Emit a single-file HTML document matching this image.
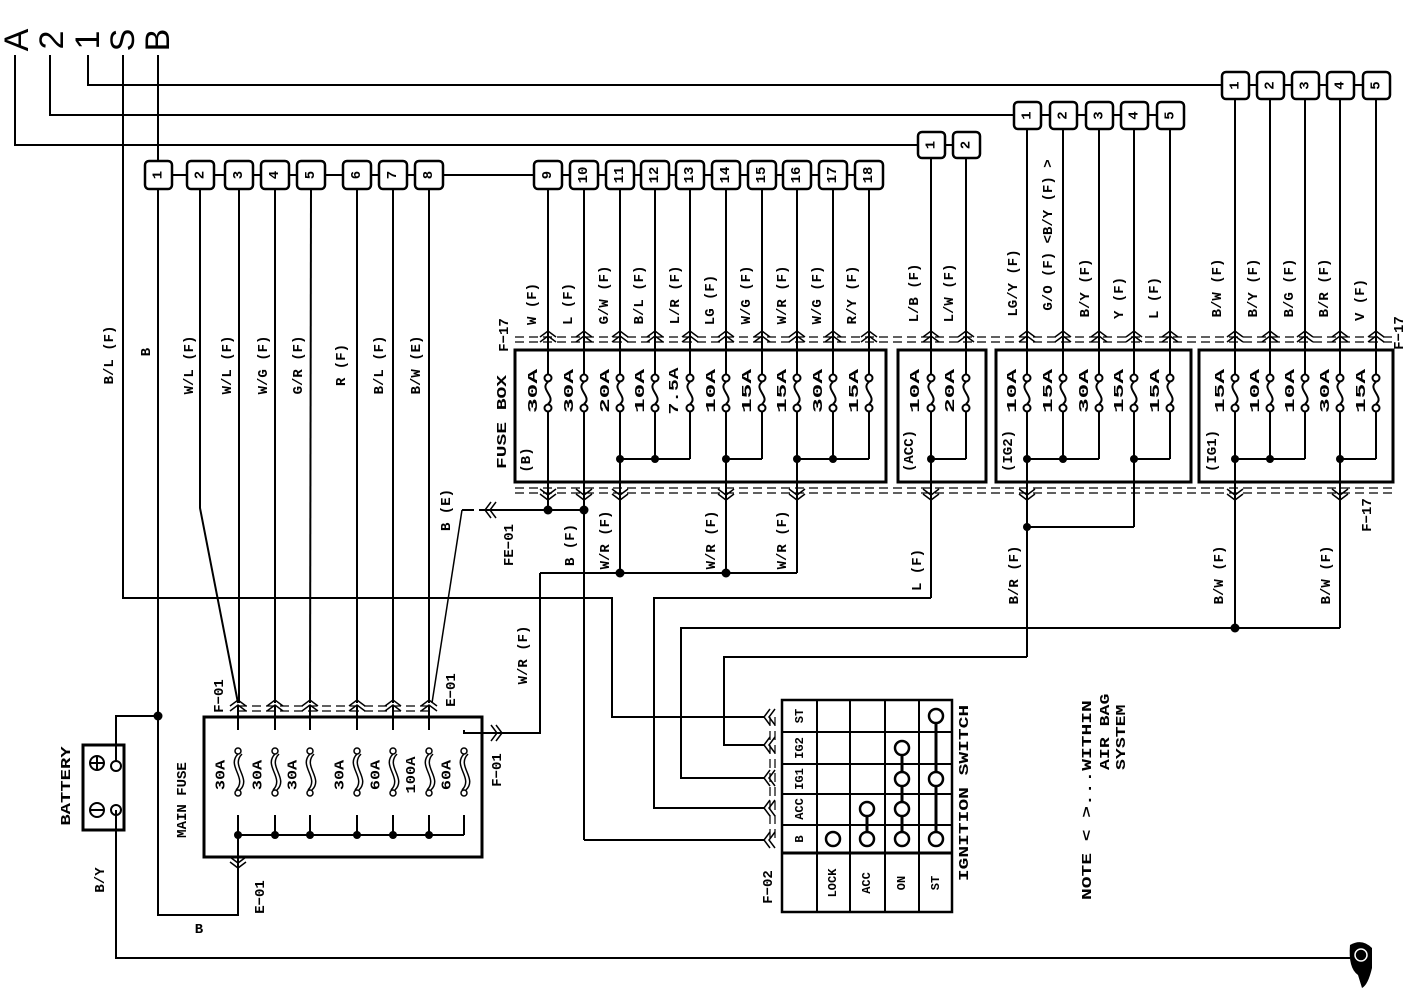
<!DOCTYPE html>
<html><head><meta charset="utf-8"><style>
html,body{margin:0;padding:0;background:#fff;}
svg{display:block;}
text{font-family:"Liberation Mono",monospace;font-weight:bold;font-size:14px;fill:#000;text-anchor:middle;dominant-baseline:central;}
.big{font-family:"Liberation Sans",sans-serif;font-size:34px;font-weight:normal;}
.s{font-size:12px;}
</style></head><body>
<svg width="1408" height="992" viewBox="0 0 1408 992" xmlns="http://www.w3.org/2000/svg">
<defs>
<g id="fz" fill="none" stroke="#000" stroke-width="2"><circle cx="0" cy="-15" r="3.5" fill="#fff"/><circle cx="0" cy="15" r="3.5" fill="#fff"/><path d="M0,-11 C-9,-4 9,4 0,11"/></g>
<g id="mf" fill="none" stroke="#000" stroke-width="1.5"><circle cx="0" cy="-21" r="3" fill="#fff"/><circle cx="0" cy="21" r="3" fill="#fff"/><path d="M0,-18 C-12,-6 10,6 -2,18 M4,-18 C-8,-6 14,6 2,18"/></g>
<g id="up" fill="none" stroke="#000" stroke-width="1.5"><path d="M-8,6 L0,0 L8,6 M-8,11 L0,5 L8,11"/></g>
<g id="dn" fill="none" stroke="#000" stroke-width="1.5"><path d="M-8,-6 L0,0 L8,-6 M-8,-11 L0,-5 L8,-11"/></g>
<g id="lf" fill="none" stroke="#000" stroke-width="1.5"><path d="M6,-8 L0,0 L6,8 M11,-8 L5,0 L11,8"/></g>
<g id="rt" fill="none" stroke="#000" stroke-width="1.5"><path d="M-6,-8 L0,0 L-6,8 M-11,-8 L-5,0 L-11,8"/></g>
</defs>

<g>
<text class="big" transform="translate(17 40) rotate(-90)">A</text>
<text class="big" transform="translate(52 40) rotate(-90)">2</text>
<text class="big" transform="translate(88 40) rotate(-90)">1</text>
<text class="big" transform="translate(123 40) rotate(-90)">S</text>
<text class="big" transform="translate(158 40) rotate(-90)">B</text>
</g>

<g fill="none" stroke="#000" stroke-width="2">
<polyline points="15,55 15,145 918,145"/>
<polyline points="50,55 50,115 1015,115"/>
<polyline points="88,55 88,85 1222,85"/>
<polyline points="123,55 123,598 612,598 612,717 765,717"/>
<line x1="158" y1="55" x2="158" y2="165"/>
<polyline points="158,190 158,915 238,915 238,862"/>
<polyline points="158,716 116,716 116,762"/>
<polyline points="116,810 116,958 1350,958"/>
<line x1="158" y1="175" x2="869" y2="175"/>
<line x1="931" y1="145" x2="966" y2="145"/>
<line x1="1027" y1="115" x2="1170" y2="115"/>
<line x1="1235" y1="85" x2="1376" y2="85"/>
<polyline points="200,190 200,508 238,703"/>
<line x1="239" y1="190" x2="239" y2="703"/>
<line x1="275" y1="190" x2="275" y2="703"/>
<line x1="311" y1="190" x2="310" y2="703"/>
<line x1="357" y1="190" x2="357" y2="703"/>
<line x1="393" y1="190" x2="393" y2="703"/>
<line x1="429" y1="190" x2="429" y2="703"/>
<polyline points="462,510 432,703" stroke-width="1.5"/>
<line x1="462" y1="510" x2="480" y2="510" stroke-dasharray="12,5"/>
<line x1="480" y1="510" x2="584" y2="510"/>
<line x1="548" y1="190" x2="548" y2="375"/><line x1="548" y1="411" x2="548" y2="510"/>
<line x1="584" y1="190" x2="584" y2="375"/><line x1="584" y1="411" x2="584" y2="840"/>
<line x1="620" y1="190" x2="620" y2="375"/><line x1="620" y1="411" x2="620" y2="573"/>
<line x1="655" y1="190" x2="655" y2="375"/><line x1="655" y1="411" x2="655" y2="459"/>
<line x1="690" y1="190" x2="690" y2="375"/><line x1="690" y1="411" x2="690" y2="459"/>
<line x1="726" y1="190" x2="726" y2="375"/><line x1="726" y1="411" x2="726" y2="573"/>
<line x1="762" y1="190" x2="762" y2="375"/><line x1="762" y1="411" x2="762" y2="459"/>
<line x1="797" y1="190" x2="797" y2="375"/><line x1="797" y1="411" x2="797" y2="573"/>
<line x1="833" y1="190" x2="833" y2="375"/><line x1="833" y1="411" x2="833" y2="459"/>
<line x1="869" y1="190" x2="869" y2="375"/><line x1="869" y1="411" x2="869" y2="459"/>
<line x1="620" y1="459" x2="690" y2="459"/>
<line x1="726" y1="459" x2="762" y2="459"/>
<line x1="797" y1="459" x2="869" y2="459"/>
<polyline points="540,573 797,573"/>
<polyline points="540,573 540,733 496,733"/>
<line x1="584" y1="840" x2="765" y2="840"/>
<line x1="931" y1="158" x2="931" y2="375"/><line x1="931" y1="411" x2="931" y2="598"/>
<line x1="966" y1="158" x2="966" y2="375"/><line x1="966" y1="411" x2="966" y2="459"/>
<line x1="931" y1="459" x2="966" y2="459"/>
<polyline points="931,598 654,598 654,808 765,808"/>
<line x1="1027" y1="130" x2="1027" y2="375"/><line x1="1027" y1="411" x2="1027" y2="657"/>
<line x1="1063" y1="130" x2="1063" y2="375"/><line x1="1063" y1="411" x2="1063" y2="459"/>
<line x1="1099" y1="130" x2="1099" y2="375"/><line x1="1099" y1="411" x2="1099" y2="459"/>
<line x1="1134" y1="130" x2="1134" y2="375"/><line x1="1134" y1="411" x2="1134" y2="527"/>
<line x1="1170" y1="130" x2="1170" y2="375"/><line x1="1170" y1="411" x2="1170" y2="459"/>
<line x1="1027" y1="459" x2="1099" y2="459"/>
<line x1="1134" y1="459" x2="1170" y2="459"/>
<polyline points="1134,527 1027,527"/>
<polyline points="1027,657 724,657 724,745 765,745"/>
<line x1="1235" y1="100" x2="1235" y2="375"/><line x1="1235" y1="411" x2="1235" y2="628"/>
<line x1="1270" y1="100" x2="1270" y2="375"/><line x1="1270" y1="411" x2="1270" y2="459"/>
<line x1="1305" y1="100" x2="1305" y2="375"/><line x1="1305" y1="411" x2="1305" y2="459"/>
<line x1="1340" y1="100" x2="1340" y2="375"/><line x1="1340" y1="411" x2="1340" y2="628"/>
<line x1="1376" y1="100" x2="1376" y2="375"/><line x1="1376" y1="411" x2="1376" y2="459"/>
<line x1="1235" y1="459" x2="1305" y2="459"/>
<line x1="1340" y1="459" x2="1376" y2="459"/>
<polyline points="1340,628 681,628 681,778 765,778"/>
<line x1="238" y1="706" x2="238" y2="730"/><line x1="238" y1="815" x2="238" y2="862"/>
<line x1="275" y1="706" x2="275" y2="730"/><line x1="275" y1="815" x2="275" y2="835"/>
<line x1="310" y1="706" x2="310" y2="730"/><line x1="310" y1="815" x2="310" y2="835"/>
<line x1="357" y1="706" x2="357" y2="730"/><line x1="357" y1="815" x2="357" y2="835"/>
<line x1="393" y1="706" x2="393" y2="730"/><line x1="393" y1="815" x2="393" y2="835"/>
<line x1="429" y1="706" x2="429" y2="730"/><line x1="429" y1="815" x2="429" y2="835"/>
<polyline points="464,730 464,733 500,733"/><line x1="464" y1="815" x2="464" y2="835"/>
<line x1="238" y1="835" x2="464" y2="835"/>
<g stroke-width="1.2" stroke-dasharray="9,5">
<line x1="515" y1="337" x2="1393" y2="337"/><line x1="515" y1="342" x2="1393" y2="342"/>
<line x1="515" y1="488" x2="1393" y2="488"/><line x1="515" y1="493" x2="1393" y2="493"/>
<line x1="238" y1="706" x2="429" y2="706"/><line x1="238" y1="711" x2="429" y2="711"/>
<line x1="775" y1="717" x2="775" y2="840"/><line x1="770" y1="717" x2="770" y2="840"/>
</g>
<g stroke-width="3">
<rect x="515" y="350" width="371" height="132"/>
<rect x="898" y="350" width="88" height="132"/>
<rect x="996" y="350" width="195" height="132"/>
<rect x="1199" y="350" width="194" height="132"/>
<rect x="204" y="717" width="278" height="140"/>
<rect x="83" y="745" width="41" height="85"/>
</g>
<circle cx="116" cy="766" r="5"/><circle cx="116" cy="810" r="5"/>
<circle cx="97" cy="763" r="7"/><path d="M90,763 H104 M97,756 V770"/>
<circle cx="97" cy="810" r="7"/><path d="M90,810 H104"/>
<rect x="782" y="700" width="170" height="212" stroke-width="2.5"/>
<line x1="817" y1="700" x2="817" y2="912"/><line x1="850" y1="700" x2="850" y2="912"/>
<line x1="885" y1="700" x2="885" y2="912"/><line x1="919" y1="700" x2="919" y2="912"/>
<line x1="782" y1="732" x2="952" y2="732"/><line x1="782" y1="764" x2="952" y2="764"/>
<line x1="782" y1="794" x2="952" y2="794"/><line x1="782" y1="825" x2="952" y2="825"/>
<line x1="782" y1="853" x2="952" y2="853" stroke-width="3"/>
<line x1="867" y1="809" x2="867" y2="839" stroke-width="3"/>
<line x1="902" y1="748" x2="902" y2="839" stroke-width="3"/>
<line x1="936" y1="716" x2="936" y2="839" stroke-width="3"/>
<g fill="#fff" stroke-width="2.5">
<circle cx="833" cy="839" r="7"/>
<circle cx="867" cy="839" r="7"/><circle cx="867" cy="809" r="7"/>
<circle cx="902" cy="839" r="7"/><circle cx="902" cy="809" r="7"/><circle cx="902" cy="779" r="7"/><circle cx="902" cy="748" r="7"/>
<circle cx="936" cy="839" r="7"/><circle cx="936" cy="779" r="7"/><circle cx="936" cy="716" r="7"/>
</g>
</g>

<g>
<use href="#fz" x="548" y="393"/><use href="#fz" x="584" y="393"/><use href="#fz" x="620" y="393"/><use href="#fz" x="655" y="393"/><use href="#fz" x="690" y="393"/><use href="#fz" x="726" y="393"/><use href="#fz" x="762" y="393"/><use href="#fz" x="797" y="393"/><use href="#fz" x="833" y="393"/><use href="#fz" x="869" y="393"/>
<use href="#fz" x="931" y="393"/><use href="#fz" x="966" y="393"/>
<use href="#fz" x="1027" y="393"/><use href="#fz" x="1063" y="393"/><use href="#fz" x="1099" y="393"/><use href="#fz" x="1134" y="393"/><use href="#fz" x="1170" y="393"/>
<use href="#fz" x="1235" y="393"/><use href="#fz" x="1270" y="393"/><use href="#fz" x="1305" y="393"/><use href="#fz" x="1340" y="393"/><use href="#fz" x="1376" y="393"/>
<use href="#mf" x="238" y="772"/><use href="#mf" x="275" y="772"/><use href="#mf" x="310" y="772"/><use href="#mf" x="357" y="772"/><use href="#mf" x="393" y="772"/><use href="#mf" x="429" y="772"/><use href="#mf" x="464" y="772"/>
</g>

<g>
<use href="#up" x="548" y="331"/><use href="#up" x="584" y="331"/><use href="#up" x="620" y="331"/><use href="#up" x="655" y="331"/><use href="#up" x="690" y="331"/><use href="#up" x="726" y="331"/><use href="#up" x="762" y="331"/><use href="#up" x="797" y="331"/><use href="#up" x="833" y="331"/><use href="#up" x="869" y="331"/>
<use href="#up" x="931" y="331"/><use href="#up" x="966" y="331"/>
<use href="#up" x="1027" y="331"/><use href="#up" x="1063" y="331"/><use href="#up" x="1099" y="331"/><use href="#up" x="1134" y="331"/><use href="#up" x="1170" y="331"/>
<use href="#up" x="1235" y="331"/><use href="#up" x="1270" y="331"/><use href="#up" x="1305" y="331"/><use href="#up" x="1340" y="331"/><use href="#up" x="1376" y="331"/>
<use href="#dn" x="548" y="500"/><use href="#dn" x="584" y="500"/><use href="#dn" x="620" y="500"/><use href="#dn" x="726" y="500"/><use href="#dn" x="797" y="500"/><use href="#dn" x="931" y="500"/><use href="#dn" x="1027" y="500"/><use href="#dn" x="1235" y="500"/><use href="#dn" x="1340" y="500"/>
<use href="#up" x="238" y="700"/><use href="#up" x="275" y="700"/><use href="#up" x="310" y="700"/><use href="#up" x="357" y="700"/><use href="#up" x="393" y="700"/><use href="#up" x="429" y="700"/>
<use href="#dn" x="238" y="868"/>
<use href="#lf" x="485" y="510"/>
<use href="#rt" x="502" y="733"/>
<use href="#lf" x="764" y="717"/><use href="#lf" x="764" y="745"/><use href="#lf" x="764" y="778"/><use href="#lf" x="764" y="808"/><use href="#lf" x="764" y="840"/>
</g>

<g fill="#000">
<circle cx="158" cy="716" r="4.5"/>
<circle cx="548" cy="510" r="4.5"/><circle cx="584" cy="510" r="4.5"/>
<circle cx="620" cy="459" r="4"/><circle cx="655" cy="459" r="4"/><circle cx="726" cy="459" r="4"/><circle cx="797" cy="459" r="4"/><circle cx="833" cy="459" r="4"/>
<circle cx="931" cy="459" r="4"/>
<circle cx="1027" cy="459" r="4"/><circle cx="1063" cy="459" r="4"/><circle cx="1134" cy="459" r="4"/>
<circle cx="1235" cy="459" r="4"/><circle cx="1270" cy="459" r="4"/><circle cx="1340" cy="459" r="4"/>
<circle cx="620" cy="573" r="4.5"/><circle cx="726" cy="573" r="4.5"/>
<circle cx="1027" cy="527" r="4"/><circle cx="1235" cy="628" r="4.5"/>
<circle cx="238" cy="835" r="4"/><circle cx="275" cy="835" r="4"/><circle cx="310" cy="835" r="4"/><circle cx="357" cy="835" r="4"/><circle cx="393" cy="835" r="4"/><circle cx="429" cy="835" r="4"/>
<path d="M1350,945 Q1362,938 1372,948 L1372,968 Q1368,985 1362,988 L1358,975 Q1348,968 1350,945Z"/>
</g>
<circle cx="1361" cy="955" r="6" fill="none" stroke="#fff" stroke-width="1.5"/>

<g fill="#fff" stroke="#000" stroke-width="2.5">
<rect x="145" y="161" width="27" height="28" rx="4"/><rect x="187" y="161" width="27" height="28" rx="4"/><rect x="225" y="161" width="28" height="28" rx="4"/><rect x="261" y="161" width="28" height="28" rx="4"/><rect x="297" y="161" width="28" height="28" rx="4"/><rect x="343" y="161" width="28" height="28" rx="4"/><rect x="379" y="161" width="28" height="28" rx="4"/><rect x="415" y="161" width="28" height="28" rx="4"/>
<rect x="534" y="161" width="28" height="28" rx="4"/><rect x="570" y="161" width="28" height="28" rx="4"/><rect x="606" y="161" width="28" height="28" rx="4"/><rect x="641" y="161" width="28" height="28" rx="4"/><rect x="676" y="161" width="28" height="28" rx="4"/><rect x="712" y="161" width="28" height="28" rx="4"/><rect x="748" y="161" width="28" height="28" rx="4"/><rect x="783" y="161" width="28" height="28" rx="4"/><rect x="819" y="161" width="28" height="28" rx="4"/><rect x="855" y="161" width="28" height="28" rx="4"/>
<rect x="918" y="132" width="27" height="26" rx="4"/><rect x="953" y="132" width="27" height="26" rx="4"/>
<rect x="1014" y="102" width="27" height="27" rx="4"/><rect x="1050" y="102" width="27" height="27" rx="4"/><rect x="1086" y="102" width="27" height="27" rx="4"/><rect x="1121" y="102" width="27" height="27" rx="4"/><rect x="1157" y="102" width="27" height="27" rx="4"/>
<rect x="1222" y="72" width="27" height="27" rx="4"/><rect x="1257" y="72" width="27" height="27" rx="4"/><rect x="1292" y="72" width="27" height="27" rx="4"/><rect x="1327" y="72" width="27" height="27" rx="4"/><rect x="1363" y="72" width="27" height="27" rx="4"/>
</g>
<g>
<text transform="translate(158.5 175) rotate(-90)">1</text><text transform="translate(200.5 175) rotate(-90)">2</text><text transform="translate(239 175) rotate(-90)">3</text><text transform="translate(275 175) rotate(-90)">4</text><text transform="translate(311 175) rotate(-90)">5</text><text transform="translate(357 175) rotate(-90)">6</text><text transform="translate(393 175) rotate(-90)">7</text><text transform="translate(429 175) rotate(-90)">8</text>
<text transform="translate(548 175) rotate(-90)">9</text><text transform="translate(584 175) rotate(-90)">10</text><text transform="translate(620 175) rotate(-90)">11</text><text transform="translate(655 175) rotate(-90)">12</text><text transform="translate(690 175) rotate(-90)">13</text><text transform="translate(726 175) rotate(-90)">14</text><text transform="translate(762 175) rotate(-90)">15</text><text transform="translate(797 175) rotate(-90)">16</text><text transform="translate(833 175) rotate(-90)">17</text><text transform="translate(869 175) rotate(-90)">18</text>
<text transform="translate(931.5 145) rotate(-90)">1</text><text transform="translate(966.5 145) rotate(-90)">2</text>
<text transform="translate(1027.5 115.5) rotate(-90)">1</text><text transform="translate(1063.5 115.5) rotate(-90)">2</text><text transform="translate(1099.5 115.5) rotate(-90)">3</text><text transform="translate(1134.5 115.5) rotate(-90)">4</text><text transform="translate(1170.5 115.5) rotate(-90)">5</text>
<text transform="translate(1235.5 85.5) rotate(-90)">1</text><text transform="translate(1270.5 85.5) rotate(-90)">2</text><text transform="translate(1305.5 85.5) rotate(-90)">3</text><text transform="translate(1340.5 85.5) rotate(-90)">4</text><text transform="translate(1376.5 85.5) rotate(-90)">5</text>
</g>

<g>
<text transform="translate(110 355) rotate(-90)">B/L (F)</text>
<text transform="translate(147 352) rotate(-90)">B</text>
<text transform="translate(190 365) rotate(-90)">W/L (F)</text>
<text transform="translate(228 365) rotate(-90)">W/L (F)</text>
<text transform="translate(264 365) rotate(-90)">W/G (F)</text>
<text transform="translate(299 365) rotate(-90)">G/R (F)</text>
<text transform="translate(342 365) rotate(-90)">R (F)</text>
<text transform="translate(380 365) rotate(-90)">B/L (F)</text>
<text transform="translate(417 365) rotate(-90)">B/W (E)</text>
<text transform="translate(447 510) rotate(-90)">B (E)</text>
<text transform="translate(510 545) rotate(-90)">FE−01</text>
<text transform="translate(524 655) rotate(-90)">W/R (F)</text>
<text transform="translate(571 545) rotate(-90)">B (F)</text>
<text transform="translate(606 540) rotate(-90)">W/R (F)</text>
<text transform="translate(712 540) rotate(-90)">W/R (F)</text>
<text transform="translate(783 540) rotate(-90)">W/R (F)</text>
<text transform="translate(918 570) rotate(-90)">L (F)</text>
<text transform="translate(1015 575) rotate(-90)">B/R (F)</text>
<text transform="translate(1220 575) rotate(-90)">B/W (F)</text>
<text transform="translate(1327 575) rotate(-90)">B/W (F)</text>
<text transform="translate(1368 515) rotate(-90)">F−17</text>
<text transform="translate(199 930)">B</text>
<text transform="translate(101 880) rotate(-90)">B/Y</text>
<text transform="translate(533 304) rotate(-90)">W (F)</text>
<text transform="translate(569 304) rotate(-90)">L (F)</text>
<text transform="translate(605 295) rotate(-90)">G/W (F)</text>
<text transform="translate(640 295) rotate(-90)">B/L (F)</text>
<text transform="translate(676 295) rotate(-90)">L/R (F)</text>
<text transform="translate(711 300) rotate(-90)">LG (F)</text>
<text transform="translate(747 295) rotate(-90)">W/G (F)</text>
<text transform="translate(783 295) rotate(-90)">W/R (F)</text>
<text transform="translate(818 295) rotate(-90)">W/G (F)</text>
<text transform="translate(853 295) rotate(-90)">R/Y (F)</text>
<text transform="translate(915 293) rotate(-90)">L/B (F)</text>
<text transform="translate(950 293) rotate(-90)">L/W (F)</text>
<text transform="translate(1014 283) rotate(-90)">LG/Y (F)</text>
<text transform="translate(1049 235) rotate(-90)">G/O (F) &lt;B/Y (F) &gt;</text>
<text transform="translate(1086 288) rotate(-90)">B/Y (F)</text>
<text transform="translate(1120 298) rotate(-90)">Y (F)</text>
<text transform="translate(1155 298) rotate(-90)">L (F)</text>
<text transform="translate(1218 288) rotate(-90)">B/W (F)</text>
<text transform="translate(1254 288) rotate(-90)">B/Y (F)</text>
<text transform="translate(1290 288) rotate(-90)">B/G (F)</text>
<text transform="translate(1325 288) rotate(-90)">B/R (F)</text>
<text transform="translate(1361 300) rotate(-90)">V (F)</text>
<text transform="translate(1400 333) rotate(-90)">F−17</text>
<text transform="translate(505 335) rotate(-90)">F−17</text>
<text transform="translate(503 422) rotate(-90) scale(1.4,1)">FUSE  BOX</text>
<text transform="translate(527 460) rotate(-90)">(B)</text>
<text transform="translate(910 451) rotate(-90)">(ACC)</text>
<text transform="translate(1009 451) rotate(-90)">(IG2)</text>
<text transform="translate(1213 451) rotate(-90)">(IG1)</text>
<g>
<text transform="translate(533 391) rotate(-90) scale(1.75,1)">30A</text><text transform="translate(569 391) rotate(-90) scale(1.75,1)">30A</text><text transform="translate(605 391) rotate(-90) scale(1.75,1)">20A</text><text transform="translate(640 391) rotate(-90) scale(1.75,1)">10A</text><text transform="translate(675 391) rotate(-90) scale(1.4,1)">7.5A</text><text transform="translate(711 391) rotate(-90) scale(1.75,1)">10A</text><text transform="translate(747 391) rotate(-90) scale(1.75,1)">15A</text><text transform="translate(782 391) rotate(-90) scale(1.75,1)">15A</text><text transform="translate(818 391) rotate(-90) scale(1.75,1)">30A</text><text transform="translate(854 391) rotate(-90) scale(1.75,1)">15A</text>
<text transform="translate(915 391) rotate(-90) scale(1.75,1)">10A</text><text transform="translate(950 391) rotate(-90) scale(1.75,1)">20A</text>
<text transform="translate(1012 391) rotate(-90) scale(1.75,1)">10A</text><text transform="translate(1048 391) rotate(-90) scale(1.75,1)">15A</text><text transform="translate(1084 391) rotate(-90) scale(1.75,1)">30A</text><text transform="translate(1119 391) rotate(-90) scale(1.75,1)">15A</text><text transform="translate(1155 391) rotate(-90) scale(1.75,1)">15A</text>
<text transform="translate(1220 391) rotate(-90) scale(1.75,1)">15A</text><text transform="translate(1255 391) rotate(-90) scale(1.75,1)">10A</text><text transform="translate(1290 391) rotate(-90) scale(1.75,1)">10A</text><text transform="translate(1325 391) rotate(-90) scale(1.75,1)">30A</text><text transform="translate(1361 391) rotate(-90) scale(1.75,1)">15A</text>
</g>
<text transform="translate(221 775) rotate(-90) scale(1.2,1)">30A</text><text transform="translate(258 775) rotate(-90) scale(1.2,1)">30A</text><text transform="translate(293 775) rotate(-90) scale(1.2,1)">30A</text><text transform="translate(340 775) rotate(-90) scale(1.2,1)">30A</text><text transform="translate(376 775) rotate(-90) scale(1.2,1)">60A</text><text transform="translate(412 775) rotate(-90) scale(1.1,1)">100A</text><text transform="translate(447 775) rotate(-90) scale(1.2,1)">60A</text>
<text transform="translate(183 800) rotate(-90)">MAIN FUSE</text>
<text transform="translate(66 786) rotate(-90) scale(1.35,1)">BATTERY</text>
<text transform="translate(220 696) rotate(-90)">F−01</text>
<text transform="translate(452 690) rotate(-90)">E−01</text>
<text transform="translate(261 897) rotate(-90)">E−01</text>
<text transform="translate(498 770) rotate(-90)">F−01</text>
<text class="s" transform="translate(800 716) rotate(-90)">ST</text>
<text class="s" transform="translate(800 748) rotate(-90)">IG2</text>
<text class="s" transform="translate(800 779) rotate(-90)">IG1</text>
<text class="s" transform="translate(800 809) rotate(-90)">ACC</text>
<text class="s" transform="translate(800 839) rotate(-90)">B</text>
<text class="s" transform="translate(833 883) rotate(-90)">LOCK</text>
<text class="s" transform="translate(867 883) rotate(-90)">ACC</text>
<text class="s" transform="translate(902 883) rotate(-90)">ON</text>
<text class="s" transform="translate(936 883) rotate(-90)">ST</text>
<text transform="translate(769 887) rotate(-90)">F−02</text>
<text transform="translate(965 793) rotate(-90) scale(1.4,1)">IGNITION SWITCH</text>
<text style="text-anchor:start" transform="translate(1088 900) rotate(-90) scale(1.4,1)">NOTE &lt; &gt;...WITHIN</text>
<text style="text-anchor:start" transform="translate(1105 770) rotate(-90) scale(1.3,1)">AIR BAG</text>
<text style="text-anchor:start" transform="translate(1121 770) rotate(-90) scale(1.3,1)">SYSTEM</text>
</g>
</svg>
</body></html>
